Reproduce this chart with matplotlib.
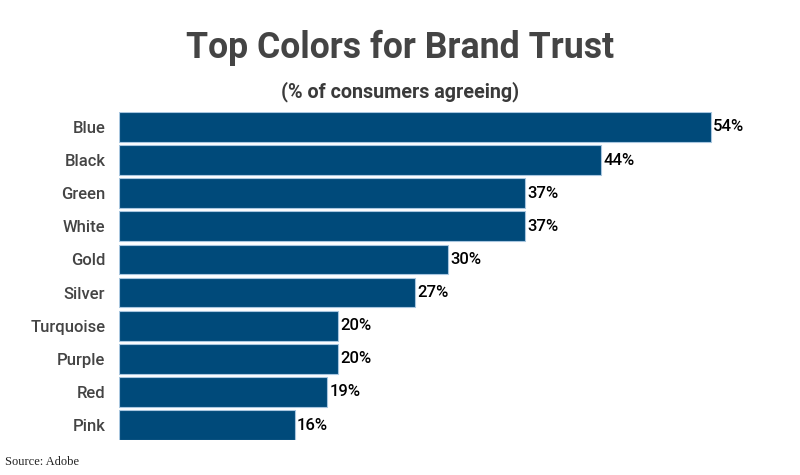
import matplotlib.pyplot as plt

colors = ["Blue", "Black", "Green", "White", "Gold", "Silver", "Turquoise", "Purple", "Red", "Pink"]
values = [54, 44, 37, 37, 30, 27, 20, 20, 19, 16]

plt.rcParams['font.family'] = ['Roboto', 'DejaVu Sans']

fig = plt.figure(figsize=(8, 4.75), dpi=100)
ax = fig.add_axes([0.149, 0.0737, 0.822, 0.6905])

pos = list(range(len(colors)))
bars = ax.barh(pos, values, height=0.9, color="#004a7a", edgecolor="#a8c6df", linewidth=0.8)
ax.set_ylim(9.45, -0.45)
ax.set_xlim(0, 60)

for p, v in zip(pos, values):
    ax.text(v + 0.2, p, f"{v}%", va="center", ha="left", fontsize=12,
            fontweight="medium", color="black")

ax.set_yticks(pos)
ax.set_yticklabels(colors, fontsize=12, fontweight="medium", color="#444444")
ax.tick_params(axis="y", length=0, pad=10)
ax.set_xticks([])
for s in ax.spines.values():
    s.set_visible(False)

fig.text(0.5, 0.899, "Top Colors for Brand Trust", ha="center", va="center",
         fontsize=25.7, fontweight="bold", color="#444444")
fig.text(0.5, 0.808, "(% of consumers agreeing)", ha="center", va="center",
         fontsize=14.2, fontweight="bold", color="#3a3a3a")
fig.text(0.006, 0.027, "Source: Adobe", ha="left", va="center",
         fontsize=9, family="Liberation Serif", color="#222222")

fig.savefig("out.png", dpi=100)
